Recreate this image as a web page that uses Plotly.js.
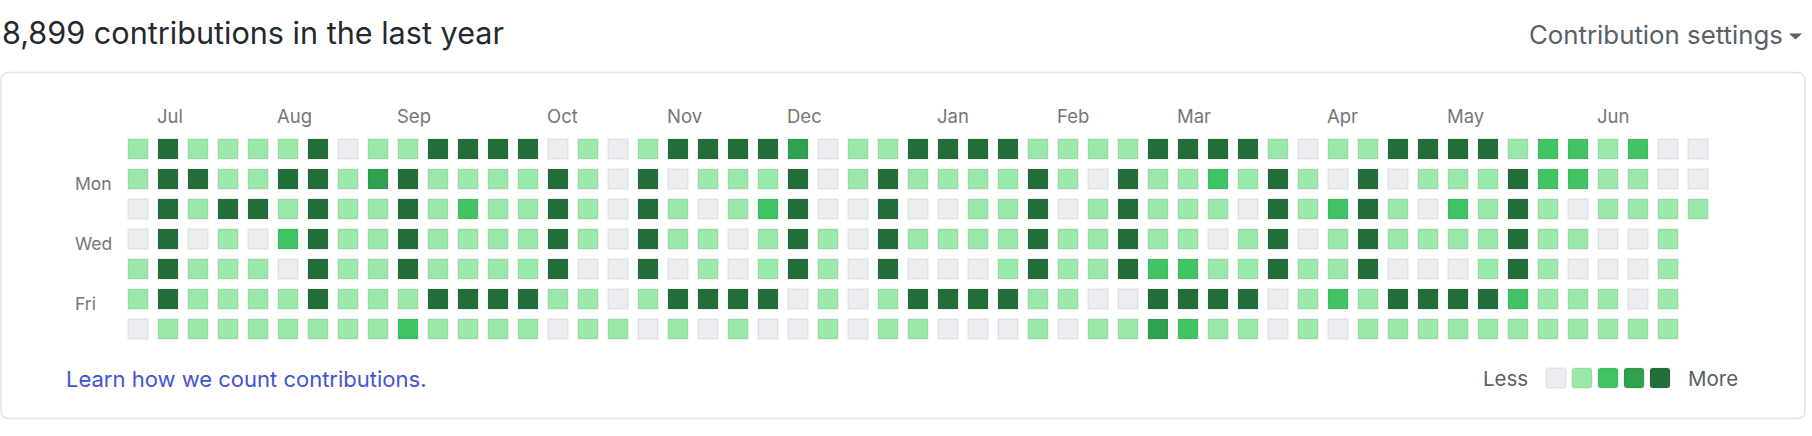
<!DOCTYPE html>
<html><head><meta charset="utf-8">
<script src="https://cdn.plot.ly/plotly-3.0.1.min.js"></script>
<style>html,body{margin:0;padding:0;background:#fff;}#chart{width:1812px;height:436px;}</style>
</head><body><div id="chart"></div>
<script>
// ---- data ----
const titleText = "8,899 contributions in the last year";
const settingsText = "Contribution settings";
const linkText = "Learn how we count contributions.";
const dayNames = ["Sun", "Mon", "Tue", "Wed", "Thu", "Fri", "Sat"];
const dayLabelRows = [1, 3, 5];
const monthNames = ["Jul", "Aug", "Sep", "Oct", "Nov", "Dec", "Jan", "Feb", "Mar", "Apr", "May", "Jun"];
const monthStartWeek = [1, 5, 9, 14, 18, 22, 27, 31, 35, 40, 44, 49];
const levelColors = ["#ebedf0", "#9be9a8", "#40c463", "#30a14e", "#216e39"];

// contribution level (0-4) per week, one array per weekday
const sun = [1,4,1,1,1,1,4,0,1,1,4,4, 4,4,0,1,0,1,4,4,4,4,3,0,1, 1,4,4,4,4,1,1,1,1,4,4,4,4,1, 0,1,1,4,4,4,4,1,2,2,1,2,0,0];
const mon = [1,4,4,1,1,4,4,1,3,4,1,1, 1,1,4,1,0,4,0,1,1,1,4,0,1, 4,1,1,1,1,4,1,0,4,1,1,2,1,4, 1,0,4,0,1,1,1,4,2,2,1,1,0,0];
const tue = [0,4,1,4,4,1,4,1,1,4,1,2, 1,1,4,1,0,4,1,0,1,2,4,0,0, 4,0,0,1,1,4,0,1,4,1,1,1,0,4, 1,2,4,1,0,2,1,4,1,0,1,1,1,1];
const wed = [0,4,0,1,0,2,4,1,1,4,1,1, 1,1,4,1,0,4,1,1,0,1,4,1,0, 4,1,1,1,1,4,1,1,4,1,1,0,1,4, 0,1,4,1,1,1,1,4,1,1,0,0,1];
const thu = [1,4,1,1,1,0,4,1,1,4,1,1, 1,1,4,0,0,4,0,1,0,1,4,1,0, 4,0,0,0,1,4,1,1,4,2,2,1,1,4, 1,1,4,0,0,0,1,4,1,0,0,0,1];
const fri = [1,4,1,1,1,1,4,1,1,1,4,4, 4,4,1,1,0,1,4,4,4,4,0,1,0, 1,4,4,4,4,1,1,0,0,4,4,4,4,0, 1,2,1,4,4,4,4,2,1,1,1,0,1];
const sat = [0,1,1,1,1,1,1,1,1,2,1,1, 1,1,0,1,1,0,1,0,1,0,0,1,0, 1,1,0,0,0,1,0,1,1,3,2,1,1,0, 1,0,1,1,1,1,1,1,1,1,1,1,1];

// ---- build ----
const W = 1812, H = 436;
const PX = v => v / W;
const PY = v => 1 - v / H;
const rows = [sun, mon, tue, wed, thu, fri, sat];
const xs = [], ys = [], cs = [], txt = [];
rows.forEach((row, r) => {
  row.forEach((lvl, w) => {
    xs.push(w); ys.push(r); cs.push(levelColors[lvl]);
    txt.push(dayNames[r] + " week " + w + ": level " + lvl);
  });
});

function rrect(x0, y0, x1, y1, rad) {
  const p = (x, y) => PX(x) + "," + PY(y);
  return "M" + p(x0 + rad, y0) + " L" + p(x1 - rad, y0) +
    " Q" + p(x1, y0) + " " + p(x1, y0 + rad) +
    " L" + p(x1, y1 - rad) +
    " Q" + p(x1, y1) + " " + p(x1 - rad, y1) +
    " L" + p(x0 + rad, y1) +
    " Q" + p(x0, y1) + " " + p(x0, y1 - rad) +
    " L" + p(x0, y0 + rad) +
    " Q" + p(x0, y0) + " " + p(x0 + rad, y0) + " Z";
}

const FONT = "Inter, 'Noto Sans', 'Liberation Sans', sans-serif";
const shapes = [];
shapes.push({type: "path", xref: "paper", yref: "paper", path: rrect(1, 72.5, 1805, 418.5, 8),
  line: {color: "#e1e4e8", width: 1.5}, fillcolor: "rgba(0,0,0,0)", layer: "below"});
// dropdown caret
shapes.push({type: "path", xref: "paper", yref: "paper",
  path: "M" + PX(1789) + "," + PY(33.5) + " L" + PX(1802) + "," + PY(33.5) + " L" + PX(1795.5) + "," + PY(39.5) + " Z",
  fillcolor: "#586069", line: {width: 0}});
// legend squares
levelColors.forEach((c, i) => {
  const x0 = 1546 + 26 * i;
  shapes.push({type: "path", xref: "paper", yref: "paper", path: rrect(x0, 368, x0 + 20, 388, 3),
    fillcolor: c, line: {color: "rgba(27,31,35,0.06)", width: 2}});
});

const annotations = [];
annotations.push({xref: "paper", yref: "paper", x: PX(0), y: PY(32.3), xanchor: "left", yanchor: "middle",
  text: titleText, showarrow: false, font: {family: FONT, size: 30.6, color: "#24292e"}});
annotations.push({xref: "paper", yref: "paper", x: PX(1785), y: PY(34.3), xanchor: "right", yanchor: "middle",
  text: settingsText, showarrow: false, font: {family: FONT, size: 25.8, color: "#586069"}});
monthNames.forEach((m, i) => {
  annotations.push({xref: "x", yref: "paper", x: monthStartWeek[i], xshift: -13, y: PY(116.2),
    xanchor: "left", yanchor: "middle", text: m, showarrow: false,
    font: {family: FONT, size: 18.5, color: "#767676"}});
});
dayLabelRows.forEach(r => {
  annotations.push({xref: "paper", yref: "y", x: PX(73), y: r, yshift: -4.4, xanchor: "left", yanchor: "middle",
    text: dayNames[r], showarrow: false, font: {family: FONT, size: 17.5, color: "#767676"}});
});
annotations.push({xref: "paper", yref: "paper", x: PX(64), y: PY(379), xanchor: "left", yanchor: "middle",
  text: linkText, showarrow: false, font: {family: FONT, size: 22, color: "#4353d6"}});
annotations.push({xref: "paper", yref: "paper", x: PX(1481), y: PY(378.7), xanchor: "left", yanchor: "middle",
  text: "Less", showarrow: false, font: {family: FONT, size: 20.5, color: "#586069"}});
annotations.push({xref: "paper", yref: "paper", x: PX(1686), y: PY(378.7), xanchor: "left", yanchor: "middle",
  text: "More", showarrow: false, font: {family: FONT, size: 20.5, color: "#586069"}});

const trace = {
  type: "scatter", mode: "markers", x: xs, y: ys, text: txt, hoverinfo: "text",
  marker: {symbol: "square", size: 20, color: cs, line: {color: "rgba(27,31,35,0.06)", width: 2}},
  showlegend: false
};

// axis ranges: week pitch 30px, first cell centre at 138px; row pitch 30px, first centre at 149px
const x0 = -138 / 30, y0 = -149 / 30;
const layout = {
  width: W, height: H, margin: {l: 0, r: 0, t: 0, b: 0, pad: 0},
  paper_bgcolor: "#ffffff", plot_bgcolor: "#ffffff",
  xaxis: {range: [x0, x0 + W / 30], visible: false, fixedrange: true},
  yaxis: {range: [y0 + H / 30, y0], visible: false, fixedrange: true},
  shapes: shapes, annotations: annotations, showlegend: false,
  font: {family: FONT}
};
Plotly.newPlot("chart", [trace], layout, {displayModeBar: false, staticPlot: true});
</script></body></html>
